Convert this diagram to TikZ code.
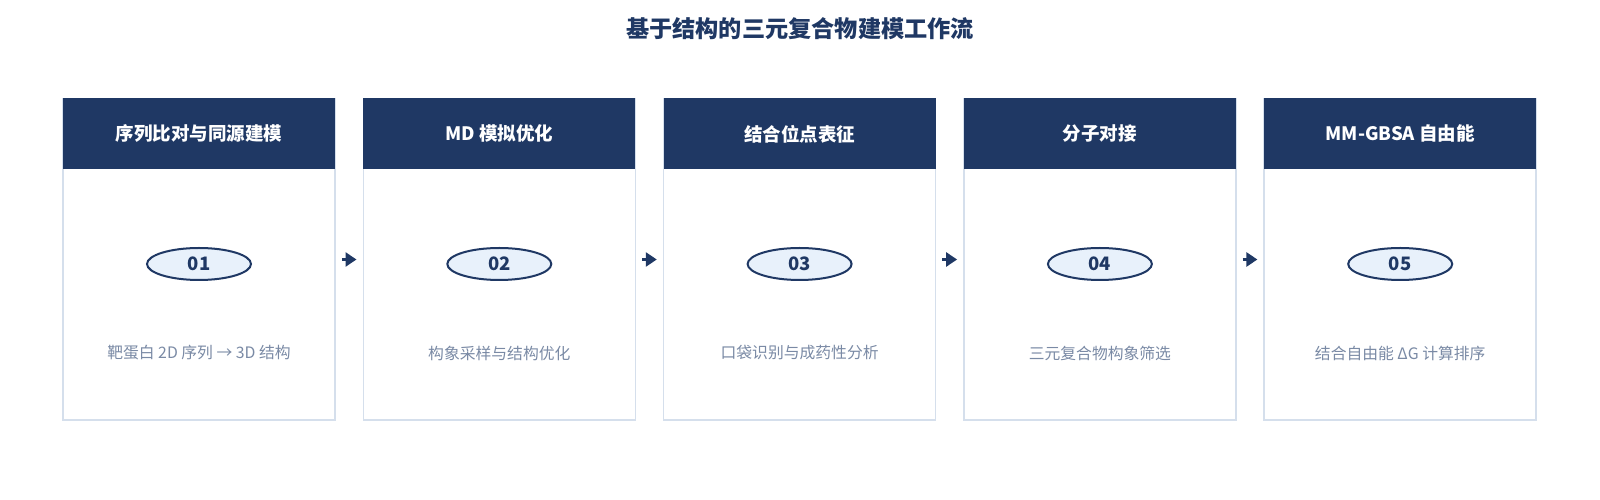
\documentclass[tikz,border=0pt]{standalone}
\usepackage{fontspec}
\setmainfont{Noto Sans CJK SC}
\usetikzlibrary{arrows.meta,shapes.geometric}
\definecolor{navy}{HTML}{1F3864}
\definecolor{cardline}{HTML}{D5DFEC}
\definecolor{pillfill}{HTML}{E8F1FB}
\definecolor{desc}{HTML}{7A8AA5}
\tikzset{
  card/.style={draw=cardline,line width=1.6pt,fill=white,minimum width=272pt,minimum height=321pt,inner sep=0pt},
  head/.style={fill=navy,minimum width=272pt,minimum height=71pt,inner sep=0pt,text=white,font=\fontsize{18.5pt}{21pt}\selectfont\bfseries},
  pill/.style={ellipse,draw=navy,line width=2pt,fill=pillfill,minimum width=104pt,minimum height=32pt,inner sep=0pt,text=navy,font=\fontsize{18.5pt}{21pt}\selectfont\bfseries},
  desctext/.style={text=desc,font=\fontsize{15.8pt}{18pt}\selectfont},
  flow/.style={draw=navy,line width=2.6pt,-{Triangle[length=11pt,width=14pt]},shorten <=6pt,shorten >=6pt}
}
\begin{document}
\begin{tikzpicture}[x=1pt,y=1pt]
\useasboundingbox (0,0) rectangle (1600,500);
\node[text=navy,font=\fontsize{23.2pt}{26pt}\selectfont\bfseries] (title) at (800,471) {基于结构的三元复合物建模工作流};
\foreach \i/\h/\n/\d in {1/序列比对与同源建模/01/靶蛋白 2D 序列 → 3D 结构,
                         2/MD 模拟优化/02/构象采样与结构优化,
                         3/结合位点表征/03/口袋识别与成药性分析,
                         4/分子对接/04/三元复合物构象筛选,
                         5/MM-GBSA 自由能/05/结合自由能 ΔG 计算排序}{
  \pgfmathsetmacro{\cx}{199+300.3*(\i-1)}
  \node[card] (c\i) at (\cx,240.5) {};
  \node[head,anchor=north] (h\i) at (c\i.north) {\h};
  \node[pill] (p\i) at (\cx,236) {\n};
  \node[desctext] (d\i) at (\cx,147) {\d};
}
\foreach \a/\b in {1/2,2/3,3/4,4/5}{
  \draw[flow] (c\a.east) -- (c\b.west);
}
\end{tikzpicture}
\end{document}
